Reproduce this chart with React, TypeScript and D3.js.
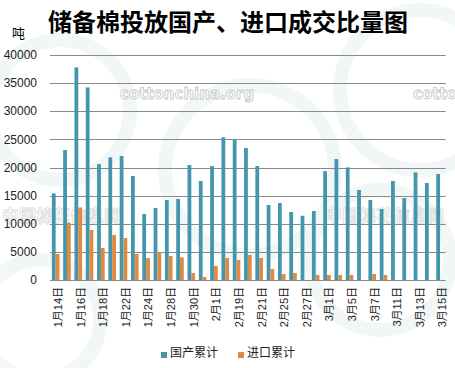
import React from "react";
import * as d3 from "d3";

const categories = [
  "1月14日", "1月15日", "1月16日", "1月17日", "1月18日", "1月21日", "1月22日",
  "1月23日", "1月24日", "1月25日", "1月28日", "1月29日", "1月30日", "1月31日",
  "2月1日", "2月18日", "2月19日", "2月20日", "2月21日", "2月22日", "2月25日",
  "2月26日", "2月27日", "2月28日", "3月1日", "3月4日", "3月5日", "3月6日",
  "3月7日", "3月8日", "3月11日", "3月12日", "3月13日", "3月14日", "3月15日",
];

const domestic = [
  15400, 23100, 37800, 34240, 20600, 21800, 22040, 18480, 11730, 12800, 14220,
  14400, 20440, 17600, 20260, 25360, 25000, 23460, 20260, 13330, 13690, 12090,
  11430, 12260, 19370, 21500, 20020, 16000, 14220, 12620, 17600, 14570, 19130,
  17240, 18840,
];

const imported = [
  4620, 10190, 12860, 8890, 5690, 8000, 7460, 4620, 3910, 4980, 4270, 4030,
  1240, 530, 2490, 3910, 3550, 4440, 3910, 1960, 1070, 1240, 0, 890, 890, 890,
  890, 0, 1070, 890, 0, 0, 0, 0, 0,
];

const yTicks = [0, 5000, 10000, 15000, 20000, 25000, 30000, 35000, 40000];
const seriesNames = ["国产累计", "进口累计"];
const colors = ["#4496ad", "#df8a40"];
const title = "储备棉投放国产、进口成交比量图";
const unit = "吨";

export default function App() {
  const W = 455;
  const H = 368;
  const left = 50;
  const right = 445.7;
  const top = 55;
  const bottom = 280;

  const x = d3.scaleBand<string>().domain(categories).range([left, right]).paddingInner(0.33).paddingOuter(0.165);
  const xi = d3.scaleBand<string>().domain(["d", "i"]).range([0, x.bandwidth()]).padding(0);
  const y = d3.scaleLinear().domain([0, 40000]).range([bottom, top]);

  const sans = "'Liberation Sans', Arial, 'Noto Sans CJK SC', sans-serif";

  return (
    <svg width={W} height={H} style={{ position: "absolute", left: 0, top: 0, background: "#fff" }}>
      {/* faint background swirls */}
      <g fill="none" stroke="#eef4f4" strokeWidth={14} opacity={0.8}>
        <circle cx={60} cy={110} r={70} />
        <circle cx={250} cy={170} r={85} />
        <circle cx={420} cy={90} r={80} />
        <circle cx={380} cy={260} r={70} />
        <circle cx={40} cy={320} r={60} />
      </g>
      {/* watermarks */}
      <g fontFamily="'DejaVu Sans', sans-serif" fontWeight="bold" fill="#fbfbfb" stroke="#c8c8c8" strokeWidth={0.8}>
        <text x={120} y={99} fontSize={15}>cottonchina.org</text>
        <text x={413} y={99} fontSize={15}>cottonchina.org</text>
        <text x={2} y={222} fontSize={17} fontFamily="'Noto Sans CJK SC', sans-serif" opacity={0.6}>中国棉花信息网</text>
        <text x={325} y={222} fontSize={17} fontFamily="'Noto Sans CJK SC', sans-serif" opacity={0.6}>中国棉花信息网</text>
      </g>

      {/* title */}
      <text x={228} y={31} textAnchor="middle" fontSize={24} fontWeight="bold" fontFamily="'Noto Sans CJK SC', sans-serif" fill="#000">
        {title}
      </text>
      <text x={12} y={38} fontSize={13} fontFamily="'Noto Sans CJK SC', sans-serif" fill="#000">{unit}</text>

      {/* grid + y labels */}
      {yTicks.map((t) => (
        <g key={t}>
          <line x1={left} x2={right} y1={Math.round(y(t)) + 0.5} y2={Math.round(y(t)) + 0.5} stroke="#8a8a8a" strokeWidth={1} />
          <text x={37} y={y(t)} dy="0.35em" textAnchor="end" fontSize={12} fontFamily={sans} fill="#222">
            {t}
          </text>
        </g>
      ))}

      {/* bars */}
      {categories.map((c, i) => (
        <g key={c}>
          <rect x={(x(c) ?? 0) + (xi("d") ?? 0)} y={y(domestic[i])} width={xi.bandwidth()} height={y(0) - y(domestic[i])} fill={colors[0]} />
          {imported[i] > 0 && (
            <rect x={(x(c) ?? 0) + (xi("i") ?? 0)} y={y(imported[i])} width={xi.bandwidth()} height={y(0) - y(imported[i])} fill={colors[1]} />
          )}
        </g>
      ))}

      {/* x labels */}
      {categories.map((c, i) =>
        i % 2 === 0 ? (
          <text
            key={c}
            transform={`translate(${(x(c) ?? 0) + x.bandwidth() / 2 + 2.5},${287}) rotate(-90)`}
            textAnchor="end"
            dy="0.35em"
            fontSize={11}
            fontFamily={sans}
            fill="#222"
          >
            {c}
          </text>
        ) : null
      )}

      {/* legend */}
      {seriesNames.map((s, i) => {
        const lx = i === 0 ? 161 : 238;
        return (
          <g key={s}>
            <rect x={lx} y={352} width={6} height={6} fill={colors[i]} />
            <text x={lx + 9} y={353} dy="0.35em" fontSize={12} fontFamily="'Noto Sans CJK SC', sans-serif" fill="#222">
              {s}
            </text>
          </g>
        );
      })}
    </svg>
  );
}
